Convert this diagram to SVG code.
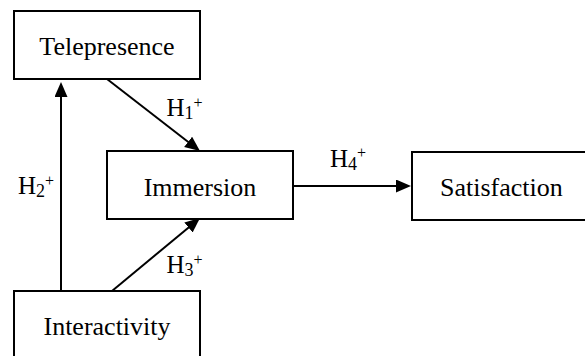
<svg xmlns="http://www.w3.org/2000/svg" width="585" height="356" viewBox="0 0 585 356">
<style>
.box{fill:#fff;stroke:#000;stroke-width:2}
.t{font-family:"Liberation Serif","Times New Roman",serif;font-size:26px;fill:#000}
.lbl{font-family:"Liberation Serif","Times New Roman",serif;font-size:25px;fill:#000}
.sub{font-size:18px}
.sup{font-size:16px}
.edge{stroke:#000;stroke-width:2;fill:none;marker-end:url(#ah)}
</style>
<defs>
<marker id="ah" markerUnits="userSpaceOnUse" markerWidth="16" markerHeight="14" refX="12" refY="6.5" orient="auto">
<path d="M0,0 L15,6.5 L0,13 z" fill="#000"/>
</marker>
</defs>
<rect width="585" height="356" fill="#fff"/>
<g id="connectors">
<line class="edge" x1="61" y1="291" x2="61" y2="85"/>
<line class="edge" x1="107" y1="79" x2="197.6" y2="149.2"/>
<line class="edge" x1="112" y1="291" x2="197.7" y2="219.9"/>
<line class="edge" x1="293" y1="186" x2="408" y2="186"/>
<text class="lbl" x="166.5" y="116">H<tspan class="sub" dy="3">1</tspan><tspan class="sup" dy="-11.5">+</tspan></text>
<text class="lbl" x="18" y="194">H<tspan class="sub" dy="3">2</tspan><tspan class="sup" dy="-11.5">+</tspan></text>
<text class="lbl" x="166.5" y="273">H<tspan class="sub" dy="3">3</tspan><tspan class="sup" dy="-11.5">+</tspan></text>
<text class="lbl" x="330" y="166.5">H<tspan class="sub" dy="3">4</tspan><tspan class="sup" dy="-11.5">+</tspan></text>
</g>
<g id="telepresence">
<rect class="box" x="14" y="11" width="186" height="68"/>
<text class="t" x="107" y="55" text-anchor="middle">Telepresence</text>
</g>
<g id="immersion">
<rect class="box" x="107" y="151" width="186" height="68"/>
<text class="t" x="200" y="196" text-anchor="middle">Immersion</text>
</g>
<g id="satisfaction">
<rect class="box" x="412" y="152" width="186" height="68"/>
<text class="t" x="440" y="196">Satisfaction</text>
</g>
<g id="interactivity">
<rect class="box" x="14" y="291" width="186" height="68"/>
<text class="t" x="107" y="335" text-anchor="middle">Interactivity</text>
</g>
</svg>
